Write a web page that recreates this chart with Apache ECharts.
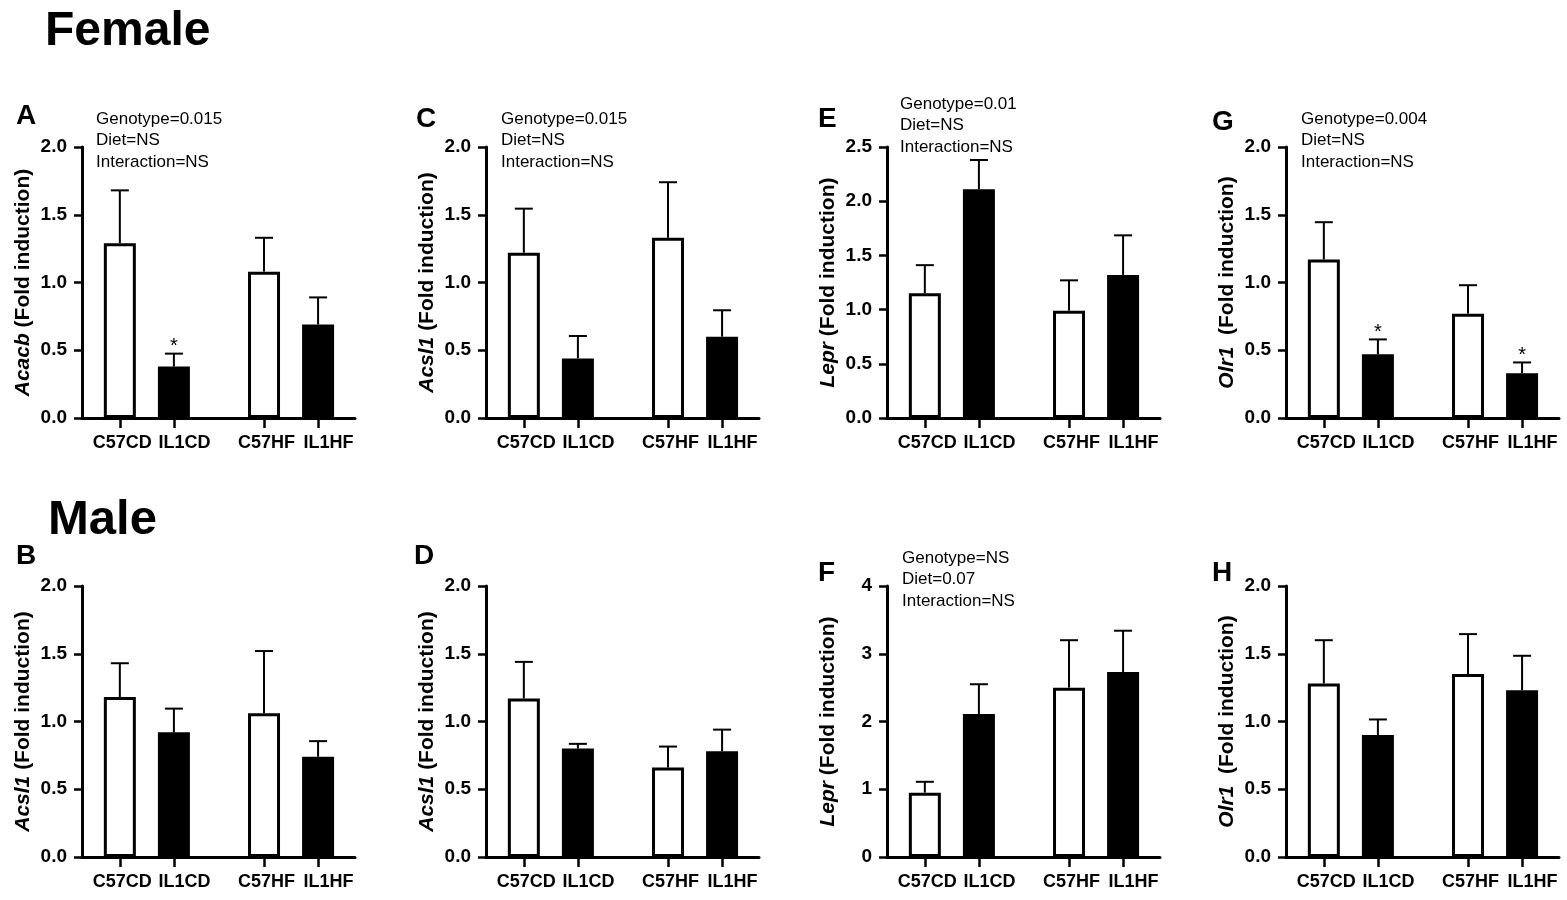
<!DOCTYPE html>
<html lang="en">
<head>
  <meta charset="UTF-8">
  <title>Female / Male gene expression</title>
  <script src="https://cdn.jsdelivr.net/npm/echarts@6/dist/echarts.min.js"></script>
  <style>
    html, body { margin: 0; padding: 0; background: #fff; }
    #chart { width: 1567px; height: 900px; }
  </style>
</head>
<body>
  <div id="chart"></div>
  <script>
    // groups on the x axis
    const groups = ['C57CD', 'IL1CD', 'C57HF', 'IL1HF'];

    // Female (top row): mean and SEM per group
    const meanA = [1.29, 0.38, 1.08, 0.69];
    const semA  = [0.39, 0.095, 0.25, 0.20];
    const meanC = [1.22, 0.44, 1.33, 0.60];
    const semC  = [0.325, 0.165, 0.41, 0.195];
    const meanE = [1.15, 2.11, 0.99, 1.32];
    const semE  = [0.26, 0.27, 0.28, 0.365];
    const meanG = [1.17, 0.47, 0.77, 0.33];
    const semG  = [0.275, 0.11, 0.21, 0.08];

    // Male (bottom row)
    const meanB = [1.18, 0.92, 1.06, 0.74];
    const semB  = [0.25, 0.175, 0.46, 0.115];
    const meanD = [1.17, 0.80, 0.66, 0.78];
    const semD  = [0.27, 0.035, 0.155, 0.16];
    const meanF = [0.95, 2.11, 2.50, 2.73];
    const semF  = [0.16, 0.44, 0.70, 0.61];
    const meanH = [1.28, 0.90, 1.35, 1.23];
    const semH  = [0.32, 0.115, 0.295, 0.255];

    // significance stars (1 = star above bar)
    const sigA = [0, 1, 0, 0];
    const sigG = [0, 1, 0, 1];
    const sigNone = [0, 0, 0, 0];

    // two-way ANOVA notes
    const statsA = ['Genotype=0.015', 'Diet=NS', 'Interaction=NS'];
    const statsC = ['Genotype=0.015', 'Diet=NS', 'Interaction=NS'];
    const statsE = ['Genotype=0.01', 'Diet=NS', 'Interaction=NS'];
    const statsG = ['Genotype=0.004', 'Diet=NS', 'Interaction=NS'];
    const statsF = ['Genotype=NS', 'Diet=0.07', 'Interaction=NS'];

    // y axis ranges
    const yMaxTop = [2, 2, 2.5, 2];
    const yMaxBottom = [2, 2, 4, 2];
    const yStepBottom = [0.5, 0.5, 1, 0.5];

    const FONT = 'Arial, "Liberation Sans", Helvetica, sans-serif';

    const panels = [
      { letter: 'A', gene: 'Acacb', sep: ' ',  mean: meanA, sem: semA, yMax: yMaxTop[0], step: 0.5, sig: sigA, stats: statsA, col: 0, row: 0 },
      { letter: 'C', gene: 'Acsl1', sep: ' ',  mean: meanC, sem: semC, yMax: yMaxTop[1], step: 0.5, sig: sigNone, stats: statsC, col: 1, row: 0 },
      { letter: 'E', gene: 'Lepr',  sep: ' ',  mean: meanE, sem: semE, yMax: yMaxTop[2], step: 0.5, sig: sigNone, stats: statsE, col: 2, row: 0 },
      { letter: 'G', gene: 'Olr1',  sep: '  ', mean: meanG, sem: semG, yMax: yMaxTop[3], step: 0.5, sig: sigG, stats: statsG, col: 3, row: 0 },
      { letter: 'B', gene: 'Acsl1', sep: ' ',  mean: meanB, sem: semB, yMax: yMaxBottom[0], step: yStepBottom[0], sig: sigNone, stats: null, col: 0, row: 1 },
      { letter: 'D', gene: 'Acsl1', sep: ' ',  mean: meanD, sem: semD, yMax: yMaxBottom[1], step: yStepBottom[1], sig: sigNone, stats: null, col: 1, row: 1 },
      { letter: 'F', gene: 'Lepr',  sep: ' ',  mean: meanF, sem: semF, yMax: yMaxBottom[2], step: yStepBottom[2], sig: sigNone, stats: statsF, col: 2, row: 1 },
      { letter: 'H', gene: 'Olr1',  sep: '  ', mean: meanH, sem: semH, yMax: yMaxBottom[3], step: yStepBottom[3], sig: sigNone, stats: null, col: 3, row: 1 }
    ];

    // layout
    const colLeft = [82, 486, 887, 1286];
    const rowTop = [147, 586];
    const plotW = 273, plotH = 271;
    const letterPos = { A: [16, 116], C: [416, 119], E: [818, 119], G: [1212, 122],
                        B: [16, 556], D: [414, 556], F: [818, 573], H: [1212, 573] };
    const statsPos = { A: [96, 119], C: [501, 119], E: [900, 104], G: [1301, 119], F: [902, 558] };

    // bar x position: small gap inside a diet group, larger gap between diets
    const xOf = i => 1 + i + (i >= 2 ? 0.667 : 0);
    const tickVals = groups.map((g, i) => xOf(i));

    const axisStyle = { color: '#000', width: 3 };
    const tickStyle = { color: '#000', width: 2.5 };
    const labelRich = {
      c: { fontFamily: FONT, fontSize: 18, fontWeight: 'bold', color: '#000', padding: [0, 0, 0, 5] },
      l: { fontFamily: FONT, fontSize: 18, fontWeight: 'bold', color: '#000', padding: [0, 0, 0, 21] }
    };

    const grids = [], xAxes = [], yAxes = [], series = [], graphics = [];

    panels.forEach((p, k) => {
      grids.push({ left: colLeft[p.col], top: rowTop[p.row], width: plotW, height: plotH });

      xAxes.push({
        gridIndex: k, type: 'value', min: 0.3, max: 5.35,
        axisLine: { show: true, onZero: false, lineStyle: axisStyle },
        axisTick: { show: true, customValues: tickVals, length: 10, lineStyle: tickStyle },
        axisLabel: {
          customValues: tickVals, margin: 16, rich: labelRich,
          formatter: v => {
            const i = tickVals.findIndex(t => Math.abs(t - v) < 0.01);
            if (i < 0) return '';
            return '{' + (i % 2 ? 'l' : 'c') + '|' + groups[i] + '}';
          }
        },
        splitLine: { show: false }
      });

      yAxes.push({
        gridIndex: k, type: 'value', min: 0, max: p.yMax, interval: p.step,
        axisLine: { show: true, onZero: false, lineStyle: axisStyle },
        axisTick: { show: true, length: 8, lineStyle: tickStyle },
        axisLabel: {
          margin: 15, color: '#000', fontFamily: FONT, fontSize: 19, fontWeight: 'bold',
          formatter: v => p.step < 1 ? v.toFixed(1) : String(v)
        },
        splitLine: { show: false },
        name: '{i|' + p.gene + '}{b|' + p.sep + '(Fold induction)}',
        nameLocation: 'middle', nameGap: 48,
        nameTextStyle: {
          rich: {
            i: { fontFamily: FONT, fontSize: 21, fontWeight: 'bold', fontStyle: 'italic', color: '#000' },
            b: { fontFamily: FONT, fontSize: 21, fontWeight: 'bold', color: '#000' }
          }
        }
      });

      series.push({
        type: 'bar', xAxisIndex: k, yAxisIndex: k, barWidth: 32, silent: true,
        data: p.mean.map((v, i) => ({
          value: [xOf(i), v],
          itemStyle: { color: i % 2 ? '#000' : '#fff', borderColor: '#000', borderWidth: 3 }
        }))
      });

      series.push({
        type: 'custom', xAxisIndex: k, yAxisIndex: k, silent: true, z: 3,
        encode: { x: 0, y: [1, 2] },
        data: p.mean.map((v, i) => [xOf(i), v, v + p.sem[i], p.sig[i]]),
        renderItem: (params, api) => {
          const x = api.value(0);
          const p0 = api.coord([x, api.value(1)]);
          const p1 = api.coord([x, api.value(2)]);
          const st = { stroke: '#000', lineWidth: 2 };
          const children = [
            { type: 'line', shape: { x1: p0[0], y1: p0[1], x2: p1[0], y2: p1[1] }, style: st },
            { type: 'line', shape: { x1: p1[0] - 9, y1: p1[1], x2: p1[0] + 9, y2: p1[1] }, style: st }
          ];
          if (api.value(3)) {
            children.push({
              type: 'text',
              style: { text: '*', x: p1[0], y: p1[1] - 7, align: 'center', verticalAlign: 'middle',
                       fontFamily: FONT, fontSize: 20, fill: '#000' }
            });
          }
          return { type: 'group', children };
        }
      });

      const lp = letterPos[p.letter];
      graphics.push({
        type: 'text', x: lp[0], y: lp[1],
        style: { text: p.letter, fontFamily: FONT, fontSize: 28, fontWeight: 'bold', fill: '#000', verticalAlign: 'middle' }
      });

      if (p.stats) {
        const sp = statsPos[p.letter];
        p.stats.forEach((s, j) => {
          graphics.push({
            type: 'text', x: sp[0], y: sp[1] + j * 21.5,
            style: { text: s, fontFamily: FONT, fontSize: 17, fill: '#000', verticalAlign: 'middle' }
          });
        });
      }
    });

    graphics.push({
      type: 'text', x: 45, y: 32,
      style: { text: 'Female', fontFamily: FONT, fontSize: 48, fontWeight: 'bold', fill: '#000', verticalAlign: 'middle' }
    });
    graphics.push({
      type: 'text', x: 48, y: 520,
      style: { text: 'Male', fontFamily: FONT, fontSize: 49, fontWeight: 'bold', fill: '#000', verticalAlign: 'middle' }
    });

    const chart = echarts.init(document.getElementById('chart'));
    chart.setOption({
      animation: false,
      backgroundColor: '#fff',
      grid: grids,
      xAxis: xAxes,
      yAxis: yAxes,
      series: series,
      graphic: graphics
    });
  </script>
</body>
</html>
